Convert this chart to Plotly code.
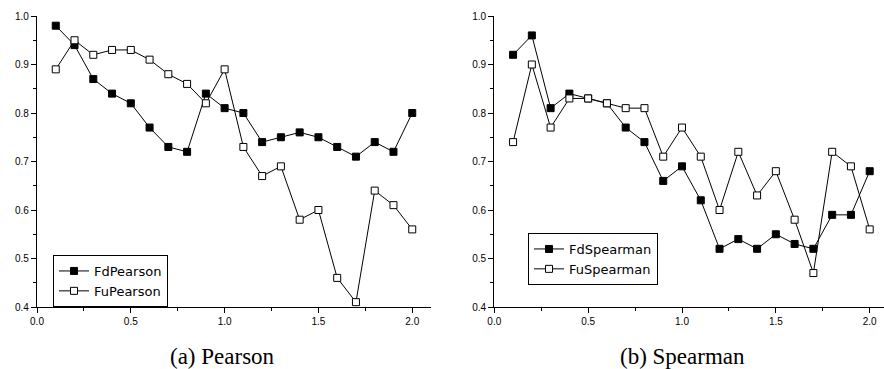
import plotly.graph_objects as go

x_vals = [0.1, 0.2, 0.3, 0.4, 0.5, 0.6, 0.7, 0.8, 0.9, 1.0,
          1.1, 1.2, 1.3, 1.4, 1.5, 1.6, 1.7, 1.8, 1.9, 2.0]

fd_pearson = [0.98, 0.94, 0.87, 0.84, 0.82, 0.77, 0.73, 0.72, 0.84, 0.81,
              0.80, 0.74, 0.75, 0.76, 0.75, 0.73, 0.71, 0.74, 0.72, 0.80]
fu_pearson = [0.89, 0.95, 0.92, 0.93, 0.93, 0.91, 0.88, 0.86, 0.82, 0.89,
              0.73, 0.67, 0.69, 0.58, 0.60, 0.46, 0.41, 0.64, 0.61, 0.56]

fd_spearman = [0.92, 0.96, 0.81, 0.84, 0.83, 0.82, 0.77, 0.74, 0.66, 0.69,
               0.62, 0.52, 0.54, 0.52, 0.55, 0.53, 0.52, 0.59, 0.59, 0.68]
fu_spearman = [0.74, 0.90, 0.77, 0.83, 0.83, 0.82, 0.81, 0.81, 0.71, 0.77,
               0.71, 0.60, 0.72, 0.63, 0.68, 0.58, 0.47, 0.72, 0.69, 0.56]

x_ticks = [0.0, 0.5, 1.0, 1.5, 2.0]
y_ticks = [0.4, 0.5, 0.6, 0.7, 0.8, 0.9, 1.0]
captions = ["(a) Pearson", "(b) Spearman"]

W, H = 884, 369

def px(v):
    return v / W

def py(v):
    return 1 - v / H

fig = go.Figure()

filled = dict(symbol="square", size=7, color="black", line=dict(color="black", width=1))
hollow = dict(symbol="square", size=7, color="white", line=dict(color="black", width=1))
line_style = dict(color="black", width=1)

fig.add_trace(go.Scatter(x=x_vals, y=fd_pearson, name="FdPearson", mode="lines+markers",
                         marker=filled, line=line_style, xaxis="x", yaxis="y", legend="legend"))
fig.add_trace(go.Scatter(x=x_vals, y=fu_pearson, name="FuPearson", mode="lines+markers",
                         marker=hollow, line=line_style, xaxis="x", yaxis="y", legend="legend"))
fig.add_trace(go.Scatter(x=x_vals, y=fd_spearman, name="FdSpearman", mode="lines+markers",
                         marker=filled, line=line_style, xaxis="x2", yaxis="y2", legend="legend2"))
fig.add_trace(go.Scatter(x=x_vals, y=fu_spearman, name="FuSpearman", mode="lines+markers",
                         marker=hollow, line=line_style, xaxis="x2", yaxis="y2", legend="legend2"))

tick_font = dict(family="Liberation Sans, Arial, sans-serif", size=10, color="black")

def xaxis(domain, rng, anchor):
    return dict(domain=domain, range=rng, anchor=anchor, tickvals=x_ticks,
                ticktext=[f"{v:.1f}" for v in x_ticks], automargin=False,
                showline=True, linecolor="black", linewidth=1.2, ticks="outside",
                ticklen=5, tickwidth=1, tickcolor="black", showgrid=False, zeroline=False,
                tickfont=tick_font,
                minor=dict(tickvals=[0.25, 0.75, 1.25, 1.75], ticks="outside", ticklen=3,
                           tickwidth=1, tickcolor="black", showgrid=False))

def yaxis(domain, anchor):
    return dict(domain=domain, range=[0.4, 1.0], anchor=anchor, tickvals=y_ticks,
                ticktext=[f"{v:.1f}" for v in y_ticks], automargin=False,
                showline=True, linecolor="black", linewidth=1.2, ticks="outside",
                ticklen=5, tickwidth=1, tickcolor="black", showgrid=False, zeroline=False,
                tickfont=tick_font,
                minor=dict(tickvals=[0.45, 0.55, 0.65, 0.75, 0.85, 0.95], ticks="outside",
                           ticklen=3, tickwidth=1, tickcolor="black", showgrid=False))

ydom = [py(307), py(16)]

legend_common = dict(bgcolor="white", bordercolor="black", borderwidth=1,
                     font=dict(family="DejaVu Sans, sans-serif", size=13, color="black"),
                     xanchor="left", yanchor="top", tracegroupgap=0, itemwidth=30)

fig.update_layout(
    width=W, height=H,
    margin=dict(l=0, r=0, t=0, b=0),
    paper_bgcolor="white", plot_bgcolor="white",
    xaxis=xaxis([px(37), px(431)], [0, 2.1], "y"),
    yaxis=yaxis(ydom, "x"),
    xaxis2=xaxis([px(494.3), 1.0], [0, (884 - 494.3) / 187.7], "y2"),
    yaxis2=yaxis(ydom, "x2"),
    legend=dict(x=px(53), y=py(255), **legend_common),
    legend2=dict(x=px(528), y=py(233), **legend_common),
    showlegend=True,
)

cap_font = dict(family="Liberation Serif, serif", size=23, color="black")
fig.add_annotation(text=captions[0], x=px(222), y=py(356), xref="paper", yref="paper",
                   showarrow=False, font=cap_font, xanchor="center", yanchor="middle")
fig.add_annotation(text=captions[1], x=px(682), y=py(356), xref="paper", yref="paper",
                   showarrow=False, font=cap_font, xanchor="center", yanchor="middle")

fig.write_html("out.html", config={"displayModeBar": False},
               post_script="document.body.style.margin='0';document.body.style.overflow='hidden';")
